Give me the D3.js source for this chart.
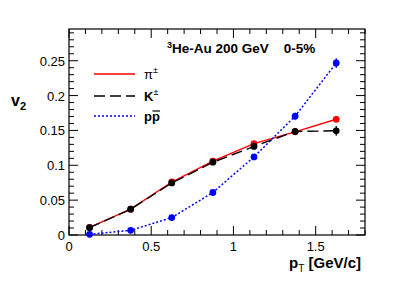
<!DOCTYPE html>
<html>
<head>
<meta charset="utf-8">
<script src="https://cdn.jsdelivr.net/npm/d3@7"></script>
<style>
  body { margin: 0; background: #fff; }
  text { font-family: "Liberation Sans", Arial, sans-serif; }
</style>
</head>
<body>
<svg id="chart" width="407" height="294"></svg>
<script>
// data
var ptBins = [0.125, 0.375, 0.625, 0.875, 1.125, 1.375, 1.625];
var pionV2 = [0.011, 0.037, 0.076, 0.106, 0.131, 0.148, 0.166];
var pionErr = [0.001, 0.001, 0.001, 0.002, 0.002, 0.003, 0.004];
var kaonV2 = [0.0105, 0.037, 0.0747, 0.1044, 0.127, 0.1485, 0.1495];
var kaonErr = [0.002, 0.002, 0.002, 0.002, 0.003, 0.005, 0.007];
var protonV2 = [0.001, 0.0067, 0.025, 0.061, 0.112, 0.1705, 0.2467];
var protonErr = [0.001, 0.001, 0.002, 0.002, 0.003, 0.005, 0.007];
var xTicks = [0, 0.5, 1, 1.5];
var yTicks = [0, 0.05, 0.1, 0.15, 0.2, 0.25];

var series = [
  { name: "pion", v: pionV2, e: pionErr, color: "#ff0000", dash: null, width: 1.4 },
  { name: "kaon", v: kaonV2, e: kaonErr, color: "#000000", dash: "11,5", width: 1.4 },
  { name: "proton", v: protonV2, e: protonErr, color: "#0000ff", dash: "2,2", width: 1.5 }
];

var margin = { top: 29, right: 42, bottom: 59, left: 69 },
  width = 407 - margin.left - margin.right,
  height = 294 - margin.top - margin.bottom;

var svg = d3.select("#chart")
  .append("g")
  .attr("transform", "translate(" + margin.left + "," + margin.top + ")");

var x = d3.scaleLinear().domain([0, 1.8]).range([0, width]);
var y = d3.scaleLinear().domain([0, 0.2955]).range([height, 0]);

// ROOT style ticks: inside, on all four sides
function ticksX(g, dir) {
  g.selectAll("line.minor")
    .data(d3.range(0, 1.81, 0.1))
    .join("line")
    .attr("x1", d => x(d)).attr("x2", d => x(d))
    .attr("y1", 0).attr("y2", d => (Math.abs(d * 2 - Math.round(d * 2)) < 1e-6 ? 9 : 5) * dir)
    .attr("stroke", "#000").attr("stroke-width", 1);
}
function ticksY(g, dir) {
  g.selectAll("line.minor")
    .data(d3.range(0, 0.2955, 0.01))
    .join("line")
    .attr("y1", d => y(d)).attr("y2", d => y(d))
    .attr("x1", 0).attr("x2", d => (Math.abs(d * 20 - Math.round(d * 20)) < 1e-6 ? 9 : 5) * dir)
    .attr("stroke", "#000").attr("stroke-width", 1);
}
svg.append("g").attr("transform", "translate(0," + height + ")").call(ticksX, -1);
svg.append("g").call(ticksX, 1);
svg.append("g").call(ticksY, 1);
svg.append("g").attr("transform", "translate(" + width + ",0)").call(ticksY, -1);

svg.append("rect")
  .attr("width", width).attr("height", height)
  .attr("fill", "none").attr("stroke", "#000").attr("stroke-width", 1.2);

// tick labels
svg.selectAll("text.xl")
  .data(xTicks)
  .join("text")
  .attr("x", d => x(d)).attr("y", height + 16)
  .attr("text-anchor", "middle").attr("font-size", 13)
  .text(d => d3.format("")(d));
svg.selectAll("text.yl")
  .data(yTicks)
  .join("text")
  .attr("x", -4).attr("y", d => y(d) + 5)
  .attr("text-anchor", "end").attr("font-size", 13)
  .text(d => d3.format("")(d));

// lines, error bars and markers
var line = d3.line()
  .x((d, i) => x(ptBins[i]))
  .y(d => y(d));

series.forEach(function (s) {
  svg.append("path")
    .datum(s.v)
    .attr("fill", "none")
    .attr("stroke", s.color)
    .attr("stroke-width", s.width)
    .attr("stroke-dasharray", s.dash)
    .attr("d", line);

  svg.selectAll("line.err-" + s.name)
    .data(s.v)
    .join("line")
    .attr("x1", (d, i) => x(ptBins[i])).attr("x2", (d, i) => x(ptBins[i]))
    .attr("y1", (d, i) => y(d - s.e[i])).attr("y2", (d, i) => y(d + s.e[i]))
    .attr("stroke", s.color).attr("stroke-width", 1.3);

  svg.selectAll("circle.m-" + s.name)
    .data(s.v)
    .join("circle")
    .attr("cx", (d, i) => x(ptBins[i]))
    .attr("cy", d => y(d))
    .attr("r", 3.4)
    .attr("fill", s.color);
});

// title
svg.append("text")
  .attr("x", 98).attr("y", 24)
  .attr("font-size", 13.5).attr("font-weight", "bold")
  .html('<tspan baseline-shift="super" font-size="9">3</tspan>He-Au 200 GeV\u00a0\u00a0\u00a0\u00a00-5%');

// legend
var legendItems = [
  { s: series[0], label: "\u03c0", sup: "\u00b1", bold: false, y: 45 },
  { s: series[1], label: "K", sup: "\u00b1", bold: true, y: 67 },
  { s: series[2], label: "p", sup: null, bold: true, y: 87 }
];
legendItems.forEach(function (d) {
  svg.append("line")
    .attr("x1", 25).attr("x2", 66)
    .attr("y1", d.y).attr("y2", d.y)
    .attr("stroke", d.s.color)
    .attr("stroke-width", d.s.width)
    .attr("stroke-dasharray", d.s.dash);
  var t = svg.append("text")
    .attr("x", 75).attr("y", d.y + 5)
    .attr("font-size", 13)
    .attr("font-weight", d.bold ? "bold" : "normal");
  t.append("tspan").text(d.label);
  if (d.sup) {
    t.append("tspan").attr("dy", -6).attr("font-size", 9).attr("font-weight", "normal").text(d.sup);
  } else {
    t.append("tspan").text("p");
  }
});
// bar over the anti-proton
svg.append("line")
  .attr("x1", 83.5).attr("x2", 91)
  .attr("y1", 82).attr("y2", 82)
  .attr("stroke", "#000").attr("stroke-width", 1.2);

// axis titles
var yt = svg.append("text")
  .attr("x", -58).attr("y", 77)
  .attr("font-size", 16).attr("font-weight", "bold");
yt.append("tspan").text("v");
yt.append("tspan").attr("dy", 4).attr("font-size", 11).text("2");

var xt = svg.append("text")
  .attr("x", width - 4).attr("y", height + 33)
  .attr("text-anchor", "end")
  .attr("font-size", 15).attr("font-weight", "bold");
xt.append("tspan").text("p");
xt.append("tspan").attr("dy", 4).attr("font-size", 10).attr("font-weight", "normal").text("T");
xt.append("tspan").attr("dy", -4).text(" [GeV/c]");
</script>
</body>
</html>
